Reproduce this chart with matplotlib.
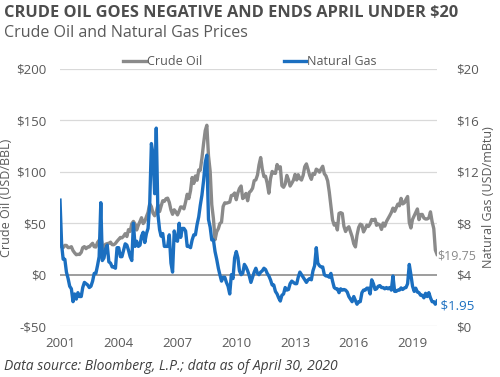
import numpy as np
import pandas as pd
import matplotlib
matplotlib.use("Agg")
from matplotlib import pyplot as plt
from matplotlib.lines import Line2D

plt.rcParams['font.family'] = ['Open Sans', 'DejaVu Sans']

# monthly values, Jan 2001 - Apr 2020
crude = [
    28.7, 27.0, 26.3, 28.5, 28.4, 26.3, 26.4, 27.2, 23.4, 21.2, 19.4, 19.8,   # 2001
    19.7, 21.7, 26.3, 27.3, 25.3, 26.9, 27.0, 28.9, 30.5, 27.2, 26.9, 31.2,   # 2002
    33.5, 36.6, 28.5, 25.8, 29.6, 30.2, 30.5, 31.6, 29.2, 29.1, 30.4, 32.5,   # 2003
    34.3, 36.2, 35.8, 37.4, 39.9, 37.1, 43.8, 42.1, 49.6, 51.8, 49.1, 43.5,   # 2004
    48.2, 51.8, 55.4, 49.7, 51.9, 56.5, 60.6, 68.9, 66.2, 59.8, 57.3, 61.0,   # 2005
    67.9, 61.4, 66.6, 71.9, 71.3, 73.9, 74.4, 70.3, 62.9, 58.7, 63.1, 61.1,   # 2006
    58.1, 61.8, 65.9, 65.7, 64.0, 70.7, 78.2, 74.0, 81.7, 94.5, 88.7, 96.0,   # 2007
    91.8, 101.8, 101.6, 113.5, 127.4, 140.0, 145.3, 115.5, 100.6, 68.1, 54.4, 34.0,  # 2008
    41.7, 44.8, 49.7, 51.1, 66.3, 69.9, 69.5, 70.0, 70.6, 77.0, 77.3, 79.4,   # 2009
    72.9, 79.7, 83.8, 86.2, 74.0, 75.6, 79.0, 71.9, 80.0, 81.4, 84.1, 91.4,   # 2010
    92.2, 97.0, 106.7, 113.9, 102.7, 95.4, 95.7, 88.8, 79.2, 93.2, 100.4, 98.8,  # 2011
    98.5, 107.1, 103.0, 104.9, 86.5, 85.0, 88.1, 96.5, 92.2, 86.2, 88.9, 91.8,   # 2012
    97.5, 92.1, 97.2, 93.5, 92.0, 96.6, 105.0, 107.7, 102.3, 96.4, 92.7, 98.4,   # 2013
    97.5, 102.6, 101.6, 99.7, 102.7, 105.4, 98.2, 96.0, 91.2, 80.5, 66.2, 53.3,  # 2014
    48.2, 49.8, 43.5, 59.6, 60.3, 59.5, 47.1, 42.0, 45.1, 46.6, 41.7, 37.0,   # 2015
    30.0, 27.0, 38.3, 45.9, 49.1, 48.3, 41.6, 44.7, 48.2, 46.9, 49.4, 53.7,   # 2016
    52.8, 54.0, 48.0, 49.3, 48.3, 44.0, 50.2, 47.2, 51.7, 54.4, 57.4, 60.4,   # 2017
    64.7, 61.6, 64.9, 68.6, 67.0, 74.2, 68.8, 69.8, 73.3, 76.0, 50.9, 45.4,   # 2018
    53.8, 57.2, 60.1, 63.9, 53.5, 58.5, 58.6, 55.1, 54.1, 54.2, 55.2, 61.1,   # 2019
    51.6, 44.8, 24.0, 19.75,                                                 # 2020
]

gas = [
    9.8, 6.3, 5.2, 5.2, 4.2, 3.7, 3.1, 2.9, 1.9, 2.5, 2.1, 2.6,     # 2001
    2.3, 2.3, 3.0, 3.4, 3.3, 3.2, 3.0, 3.1, 3.5, 4.1, 4.1, 4.7,     # 2002
    5.4, 9.6, 5.1, 5.3, 6.0, 6.3, 5.0, 4.9, 4.6, 4.6, 4.5, 6.1,     # 2003
    6.1, 5.4, 5.4, 5.9, 6.4, 6.3, 5.9, 5.4, 5.1, 8.0, 6.2, 6.6,     # 2004
    6.2, 6.3, 7.0, 7.3, 6.5, 7.2, 7.6, 9.5, 14.2, 13.4, 10.3, 15.4, # 2005
    8.7, 7.5, 7.0, 7.2, 6.2, 6.2, 6.2, 7.1, 4.9, 4.2, 7.4, 6.7,     # 2006
    6.6, 8.0, 6.9, 7.6, 7.6, 7.4, 6.2, 6.2, 6.1, 6.7, 7.1, 7.1,     # 2007
    7.9, 8.5, 9.4, 10.2, 11.3, 12.7, 13.3, 8.3, 7.7, 6.7, 6.7, 5.8, # 2008
    5.2, 4.5, 4.0, 3.5, 3.8, 3.8, 3.4, 3.1, 2.5, 4.0, 3.7, 5.3,     # 2009
    5.8, 5.3, 4.3, 4.0, 4.1, 4.8, 4.6, 4.3, 3.9, 3.4, 3.8, 4.2,     # 2010
    4.5, 4.1, 4.0, 4.2, 4.3, 4.5, 4.4, 4.1, 3.9, 3.6, 3.2, 3.2,     # 2011
    2.7, 2.5, 2.2, 1.95, 2.4, 2.5, 3.0, 2.8, 2.85, 3.3, 3.5, 3.4,   # 2012
    3.3, 3.3, 3.8, 4.2, 4.0, 3.8, 3.6, 3.4, 3.6, 3.7, 3.6, 4.3,     # 2013
    4.7, 6.1, 4.9, 4.7, 4.6, 4.6, 4.0, 3.9, 3.9, 3.8, 4.1, 3.5,     # 2014
    3.0, 2.9, 2.9, 2.6, 2.9, 2.8, 2.85, 2.8, 2.65, 2.3, 2.1, 1.9,   # 2015
    2.3, 2.0, 1.7, 1.9, 1.9, 2.6, 2.8, 2.8, 2.95, 2.95, 2.5, 3.6,   # 2016
    3.3, 2.85, 2.9, 3.1, 3.15, 3.0, 3.0, 2.9, 3.0, 2.9, 3.0, 2.8,   # 2017
    3.9, 2.7, 2.7, 2.8, 2.8, 2.97, 2.85, 2.96, 3.0, 3.3, 4.8, 4.0,  # 2018
    3.1, 2.7, 2.95, 2.65, 2.6, 2.4, 2.4, 2.2, 2.55, 2.3, 2.6, 2.2,  # 2019
    1.9, 1.9, 1.7, 1.95,                                            # 2020
]

dates = pd.date_range("2001-01-01", periods=len(crude), freq="MS")
years = [2001, 2004, 2007, 2010, 2013, 2016, 2019]
left_ticks = [-50, 0, 50, 100, 150, 200]
right_ticks = [0, 4, 8, 12, 16, 20]

c_grey = "#8a8a8a"
c_blue = "#1b6fc0"
c_text = "#595959"

fig = plt.figure(figsize=(5, 3.77), dpi=100)
ax = fig.add_axes([0.12, 0.135, 0.754, 0.682])
ax2 = ax.twinx()

for v in left_ticks:
    if v == 0:
        ax.axhline(v, color="#8c8c8c", lw=1.2, zorder=1)
    else:
        ax.axhline(v, color="#d9d9d9", lw=0.9, zorder=0)

ax.plot(dates, crude, color=c_grey, lw=2.4, zorder=2)
ax2.plot(dates, gas, color=c_blue, lw=2.4, zorder=3)

ax.set_xlim(dates[0], dates[-1])
ax.set_ylim(-50, 200)
ax2.set_ylim(0, 20)
ax.set_yticks(left_ticks)
ax.set_yticklabels([("-$%d" % -v) if v < 0 else "$%d" % v for v in left_ticks])
ax2.set_yticks(right_ticks)
ax2.set_yticklabels(["$%d" % v for v in right_ticks])
ax.set_xticks([pd.Timestamp("%d-01-01" % y) for y in years])
ax.set_xticklabels([str(y) for y in years])

for a in (ax, ax2):
    for s in a.spines.values():
        s.set_visible(False)
    a.tick_params(length=0, colors=c_text, labelsize=9.5)
ax.tick_params(axis="y", pad=10)
ax2.tick_params(axis="y", pad=14)
ax.tick_params(axis="x", pad=8)

ax.set_ylabel("Crude Oil (USD/BBL)", color=c_text, fontsize=9, labelpad=2)
ax2.set_ylabel("Natural Gas (USD/mBtu)", color=c_text, fontsize=9)
ax2.yaxis.set_label_coords(1.12, 0.5)

ax2.text(dates[-1], 19.75 / 12.5 + 4 - 0.15, "$19.75", color=c_grey, fontsize=9,
         ha="left", va="center")
ax2.text(dates[-1], gas[-1] - 0.35, " $1.95", color=c_blue, fontsize=9.5,
         ha="left", va="center")

handles = [Line2D([], [], color=c_grey, lw=2.4), Line2D([], [], color=c_blue, lw=2.4)]
fig.legend(handles, ["Crude Oil", "Natural Gas"], loc="center", bbox_to_anchor=(0.5, 0.836),
           ncol=2, frameon=False, fontsize=9, handlelength=1.8, handletextpad=0.1,
           columnspacing=6.5, labelcolor=c_text)

fig.text(0.008, 0.965, "CRUDE OIL GOES NEGATIVE AND ENDS APRIL UNDER $20", fontsize=11.8,
         fontweight="bold", color="#4d4d4d", va="center", ha="left")
fig.text(0.008, 0.912, "Crude Oil and Natural Gas Prices", fontsize=11.5, color=c_text,
         va="center", ha="left")
fig.text(0.008, 0.027, "Data source: Bloomberg, L.P.; data as of April 30, 2020", fontsize=10,
         style="italic", color="#404040", va="center", ha="left")

fig.savefig("out.png", dpi=100)
